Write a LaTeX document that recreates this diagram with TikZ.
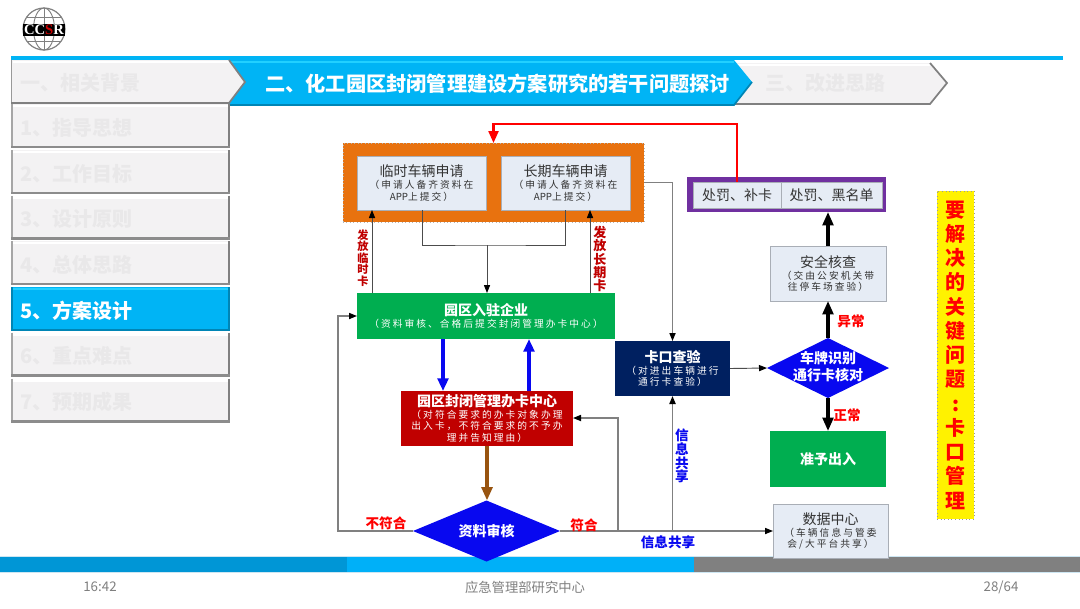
\documentclass[tikz,border=0pt]{standalone}
\usepackage{fontspec}
\setmainfont{Noto Sans CJK SC}
\newfontfamily\subf[LetterSpace=21]{Noto Sans CJK SC}
\newfontfamily\logof{Liberation Serif}
\usetikzlibrary{arrows.meta,calc,shapes.geometric}
\definecolor{lightfill}{HTML}{E6ECF5}
\definecolor{lightedge}{HTML}{A9AEB6}
\definecolor{orangefill}{HTML}{E8720F}
\definecolor{greenfill}{HTML}{00AE50}
\definecolor{redfill}{HTML}{C00000}
\definecolor{navyfill}{HTML}{002060}
\definecolor{purplefill}{HTML}{7030A0}
\definecolor{pureblue}{HTML}{0808F0}
\definecolor{brownline}{HTML}{985410}
\definecolor{greyline}{HTML}{808080}
\definecolor{skyfill}{HTML}{00B4F5}
\definecolor{skytop}{HTML}{22D0FF}
\definecolor{skybot}{HTML}{0085B5}
\definecolor{menufill}{HTML}{F3F2F3}
\definecolor{menutext}{HTML}{E9E8E9}
\definecolor{footgrey}{HTML}{7F7F7F}
\definecolor{bandA}{HTML}{0096D6}
\definecolor{bandB}{HTML}{00B0F8}
\definecolor{bandC}{HTML}{808080}
\definecolor{bandedge}{HTML}{CDE6F2}
\newcommand\tit{\fontsize{10.5}{8.8}\selectfont\bfseries}
\newcommand\titr{\fontsize{10.5}{8.8}\selectfont}
\newcommand\subt{\subf\fontsize{7.3}{8.8}\selectfont}
\newcommand\plainapp{\normalfont\fontsize{7.3}{8.8}\selectfont APP}
\newcommand\bevel[5]{%
  \draw[#2,line width=1.8pt] ($(#1.north west)+(1,2)$) -- ($(#1.north east)+(-1,2)$);
  \draw[#3,line width=1.1pt] ($(#1.north west)+(0.8,0)$) -- ($(#1.south west)+(0.8,0)$);
  \draw[#4,line width=1.6pt] ($(#1.north east)+(-1,0)$) -- ($(#1.south east)+(-1,0)$);
  \draw[#5,line width=1.6pt] ($(#1.south west)+(0,-1)$) -- ($(#1.south east)+(0,-1)$);
}
\tikzset{
  wh/.style 2 args={minimum width=#1*0.75pt,minimum height=#2*0.75pt,inner sep=0pt,outer sep=0pt},
  menuitem/.style={fill=menufill,text=menutext,font=\fontsize{15}{18}\selectfont\bfseries,text width=201*0.75pt,align=left,text height=16pt,text depth=1.8pt},
  menuon/.style={fill=skyfill,text=white,font=\fontsize{15}{18}\selectfont\bfseries,text width=201*0.75pt,align=left,text height=15.5pt,text depth=1.8pt},
  lightbox/.style={rectangle,draw=lightedge,fill=lightfill,line width=.75pt,align=center,text=black!80,font=\fontsize{7}{8.8}\selectfont},
  darkbox/.style={rectangle,align=center,text=white,font=\fontsize{7}{8.8}\selectfont},
  decision/.style={diamond,fill=pureblue,text=white,aspect=2.4},
  flowlabel/.style={font=\fontsize{10.2}{12}\selectfont\bfseries,inner sep=0pt},
  stacklabel/.style={align=center,inner sep=0pt},
  thinline/.style={draw=black!70,line width=.7pt},
  greyconn/.style={draw=greyline,line width=.95pt},
  thintip/.style={-{Triangle[length=6pt,width=4.6pt,color=black]}},
  heavy/.style={draw=black,line width=2.3pt,-{Triangle[length=10pt,width=8pt]}},
  bluearrow/.style={draw=pureblue,line width=2.5pt,-{Triangle[length=9.5pt,width=8pt]}},
  brownarrow/.style={draw=brownline,line width=2.5pt,-{Triangle[length=10pt,width=8pt]}},
  redarrow/.style={draw=red,line width=1.7pt,-{Triangle[length=9pt,width=7.5pt]}},
  foot/.style={text=footgrey,font=\fontsize{10}{12}\selectfont,inner sep=0pt}
}
\begin{document}
\begin{tikzpicture}[x=0.75pt,y=-0.75pt]
\useasboundingbox (0,0) rectangle (1080,608);
\fill[white] (0,0) rectangle (1080,608);

% logo
\draw[gray,line width=.9pt] (44,29) circle[radius=21];
\draw[gray,line width=.7pt] (44,29) ellipse[x radius=10.5,y radius=21];
\draw[gray,line width=.7pt] (44,8) -- (44,50);
\draw[gray,line width=.7pt] (27,17) -- (61,17) (27,41) -- (61,41);
\node[fill=black,wh={42}{12},text=white,font=\logof\bfseries\fontsize{11}{11}\selectfont] (logo) at (44,29.5) {CC\textcolor{red!80!black}{S}R};

% header rule
\fill[skyfill] (11,56) rectangle (1063,60);

% tabs
\fill[menufill] (735,63) -- (930,63) -- (947,83) -- (930,104) -- (735,104) -- cycle;
\draw[white,line width=1.5pt] (735,65) -- (930,65);
\draw[gray,line width=1.3pt] (930,63) -- (947,83) -- (930,104) -- (735,104);
\node[anchor=west,inner sep=0pt,text=menutext,font=\fontsize{15}{18}\selectfont\bfseries] (tabthree) at (765,83) {三、改进思路};
\fill[skyfill] (229,60) -- (734,60) -- (752,82) -- (734,105) -- (229,105) -- cycle;
\draw[skytop,line width=1.3pt] (229,62) -- (734,62);
\draw[skybot,line width=1.3pt] (752,82) -- (734,105) -- (229,105);
\node[anchor=west,inner sep=0pt,text=white,font=\fontsize{15.15}{18}\selectfont\bfseries] (tabtwo) at (265,83.5) {二、化工园区封闭管理建设方案研究的若干问题探讨};
\fill[menufill] (11,60) -- (229,60) -- (245,82) -- (229,103) -- (11,103) -- cycle;
\draw[white,line width=1.6pt] (13,62) -- (229,62);
\draw[gray!80,line width=1.1pt] (11.5,60) -- (11.5,103);
\draw[gray,line width=1.3pt] (229,60) -- (245,82) -- (229,103) -- (11,103);
\node[anchor=west,inner sep=0pt,text=menutext,font=\fontsize{15}{18}\selectfont\bfseries] (tabone) at (20,83) {一、相关背景};

% left menu
\node[menuitem,wh={219}{44}] (m1) at (120.5,126) {1、指导思想};
\bevel{m1}{white}{gray!70}{gray}{gray!90}
\node[menuitem,wh={219}{44}] (m2) at (120.5,172) {2、工作目标};
\bevel{m2}{white}{gray!70}{gray}{gray!90}
\node[menuitem,wh={219}{44}] (m3) at (120.5,217.5) {3、设计原则};
\bevel{m3}{white}{gray!70}{gray}{gray!90}
\node[menuitem,wh={219}{44}] (m4) at (120.5,263) {4、总体思路};
\bevel{m4}{white}{gray!70}{gray}{gray!90}
\node[menuon,wh={219}{44}] (m5) at (120.5,309) {5、方案设计};
\bevel{m5}{skytop}{skybot}{skybot}{skybot}
\node[menuitem,wh={219}{44}] (m6) at (120.5,354.5) {6、重点难点};
\bevel{m6}{white}{gray!70}{gray}{gray!90}
\node[menuitem,wh={219}{44}] (m7) at (120.5,400.5) {7、预期成果};
\bevel{m7}{white}{gray!70}{gray}{gray!90}

% footer band
\fill[bandedge] (0,555.8) rectangle (1080,573);
\fill[bandA] (0,557) rectangle (347,572);
\fill[bandB] (347,557) rectangle (694,572);
\fill[bandC] (694,557) rectangle (1080,572);
\node[foot] (ftime) at (100,587) {16:42};
\node[foot] (forg) at (525,587) {应急管理部研究中心};
\node[foot] (fpage) at (1001,587) {28/64};

% flow: boxes
\node[rectangle,fill=orangefill,draw=gray!60,dotted,line width=.6pt,wh={301}{79}] (apply) at (493.5,182.5) {};
\node[lightbox,wh={129}{54}] (tmp) at (421.5,183) {{\titr 临时车辆申请}\\{\subt （申请人备齐资料在}\\{\plainapp\subt 上提交）}};
\node[lightbox,wh={129}{54}] (lng) at (565.5,183) {{\titr 长期车辆申请}\\{\subt （申请人备齐资料在}\\{\plainapp\subt 上提交）}};
\node[darkbox,fill=greenfill,wh={258}{46}] (ent) at (486,316) {{\tit 园区入驻企业}\\{\subt （资料审核、合格后提交封闭管理办卡中心）}};
\node[darkbox,fill=redfill,wh={172}{55}] (card) at (487,418.5) {{\tit 园区封闭管理办卡中心}\\{\subt （对符合要求的办卡对象办理}\\{\subt 出入卡，不符合要求的不予办}\\{\subt 理并告知理由）}};
\node[decision,wh={147}{61}] (rev) at (486.5,531) {\makebox[0pt]{\fontsize{10.5}{12}\selectfont\bfseries 资料审核}};
\node[darkbox,fill=navyfill,wh={115}{55}] (gate) at (672.5,368.5) {{\tit 卡口查验}\\{\subt （对进出车辆进行}\\{\subt 通行卡查验）}};
\node[decision,aspect=2,wh={122}{60}] (plate) at (828,368) {\makebox[0pt]{\begin{tabular}{@{}c@{}}\fontsize{10.5}{10}\selectfont\bfseries 车牌识别\\\fontsize{10.5}{10}\selectfont\bfseries 通行卡核对\end{tabular}}};
\node[lightbox,wh={116}{55}] (safe) at (828,273.5) {{\titr 安全核查}\\{\subt （交由公安机关带}\\{\subt 往停车场查验）}};
\node[rectangle,fill=purplefill,wh={199}{35}] (pun) at (786.5,194.5) {};
\node[lightbox,wh={88}{26},font=\fontsize{10.5}{12}\selectfont] (punA) at (737,195) {处罚、补卡};
\node[lightbox,wh={101}{26},font=\fontsize{10.5}{12}\selectfont] (punB) at (831.5,195) {处罚、黑名单};
\node[darkbox,fill=greenfill,wh={116}{56}] (pass) at (828,459) {\tit 准予出入};
\node[lightbox,wh={115}{54}] (data) at (830.5,531) {{\titr 数据中心}\\{\subt （车辆信息与管委}\\{\subt 会/大平台共享）}};
\node[rectangle,fill=yellow,draw=gray!80,dotted,line width=.7pt,wh={37}{328},align=center,text=red,font=\fontsize{15}{18.2}\selectfont\bfseries] (issue) at (955.5,355) {要\\解\\决\\的\\关\\键\\问\\题\\:\\卡\\口\\管\\理};

% flow: connectors
\coordinate (jn) at (487,245);
\draw[thinline] (422,0 |- tmp.south) |- (jn) -| (565,0 |- lng.south);
\draw[thinline,thintip] (jn) -- (jn |- ent.north);
\draw[thinline,thintip] (372,0 |- ent.north) -- (372,0 |- tmp.south);
\draw[thinline,thintip] (590,0 |- ent.north) -- (590,0 |- lng.south);
\draw[bluearrow] (443,0 |- ent.south) -- (443,0 |- card.north);
\draw[bluearrow] (529,0 |- card.north) -- (529,0 |- ent.south);
\draw[brownarrow] (card.south) -- (card.south |- rev.north);
\coordinate (loopin) at (338,316);
\draw[greyconn,thintip] (rev.west) -| (loopin) -- (loopin -| ent.west);
\coordinate (backjoin) at (618,531);
\coordinate (sharejoin) at (672.5,531);
\draw[greyconn,thintip] (rev.east) -- (data.west);
\draw[greyconn,thintip] (backjoin) |- (card.east |- 0,418);
\draw[greyconn,line width=1.2pt,thintip] (sharejoin) -- (gate.south);
\draw[greyconn,thintip] (apply.east) -| (gate.north);
\draw[thinline,thintip] (gate.east) -- (plate.west);
\draw[heavy] (plate.north) -- (safe.south);
\draw[heavy] (safe.north) -- (pun.south -| safe.north);
\draw[heavy] (plate.south) -- (pass.north);
\coordinate (redtop) at (737,124);
\draw[redarrow] (punA.north) -- (redtop) -| (apply.north);

% labels
\node[stacklabel,text=redfill,font=\fontsize{8.4}{8.7}\selectfont\bfseries] (lblA) at (363,258) {发\\放\\临\\时\\卡};
\node[stacklabel,text=redfill,font=\fontsize{9.8}{10.05}\selectfont\bfseries] (lblB) at (600,259) {发\\放\\长\\期\\卡};
\node[stacklabel,text=pureblue,font=\fontsize{10.2}{10.2}\selectfont\bfseries] (lblC) at (682,456) {信\\息\\共\\享};
\node[flowlabel,text=pureblue] (lblD) at (668,542) {信息共享};
\node[flowlabel,text=red] (lblE) at (386,523) {不符合};
\node[flowlabel,text=red] (lblF) at (584,525) {符合};
\node[flowlabel,text=red] (lblG) at (851,321) {异常};
\node[flowlabel,text=red] (lblH) at (847,415) {正常};
\end{tikzpicture}
\end{document}
